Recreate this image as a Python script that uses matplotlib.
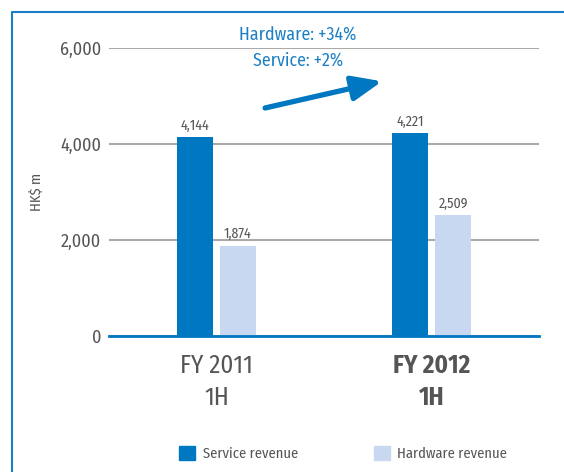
import matplotlib
matplotlib.use("Agg")
import matplotlib.pyplot as plt
from matplotlib.lines import Line2D

# dados
periods = ["FY 2011\n1H", "FY 2012\n1H"]
service = [4144, 4221]
hardware = [1874, 2509]
series_names = ["Service revenue", "Hardware revenue"]
yticks = [0, 2000, 4000, 6000]
note_lines = ["Hardware: +34%", "Service: +2%"]

plt.rcParams["font.family"] = ["Fira Sans Condensed", "DejaVu Sans"]

dark_blue = "#0077c1"
light_blue = "#c8d8f0"
text_blue = "#1a7fc4"
grey = "#555555"

fig = plt.figure(figsize=(5.64, 4.72), dpi=100)
ax = fig.add_axes([109 / 564, 136.3 / 472, 430 / 564, 288 / 472])

x = list(range(len(periods)))
w = 0.163
off = 0.1
b1 = ax.bar([i - off for i in x], service, width=w, color=dark_blue, zorder=3)
b2 = ax.bar([i + off for i in x], hardware, width=w, color=light_blue, zorder=3)

# rótulos de valor
for bars in (b1, b2):
    for r in bars:
        h = r.get_height()
        ax.text(r.get_x() + r.get_width() / 2, h + 90, f"{h:,.0f}",
                ha="center", va="bottom", fontsize=10, color=grey)

ax.set_xlim(-0.5, 1.5)
ax.set_ylim(0, 6000)
ax.set_yticks(yticks)
ax.set_yticklabels([f"{v:,}" for v in yticks], fontsize=13, color=grey)
ax.yaxis.grid(True, color="#aaaaaa", linewidth=1.5, zorder=0)
ax.tick_params(axis="y", length=0, pad=5.5)
ax.set_ylabel("HK$ m", fontsize=10.5, color=grey, labelpad=12)

ax.set_xticks(x)
ax.set_xticklabels(periods, fontsize=18, color=grey, linespacing=1.35)
ax.get_xticklabels()[1].set_fontweight("bold")
ax.tick_params(axis="x", length=0, pad=13)

for s in ["top", "right", "left"]:
    ax.spines[s].set_visible(False)
ax.spines["bottom"].set_color(dark_blue)
ax.spines["bottom"].set_linewidth(2)
ax.spines["bottom"].set_zorder(4)

# nota e seta
ax.text(0.379, 6244, note_lines[0], ha="center", va="center",
        fontsize=12.8, color=text_blue, clip_on=False)
ax.text(0.379, 5723, note_lines[1], ha="center", va="center",
        fontsize=12.8, color=text_blue, clip_on=False)
ax.annotate("", xy=(0.77, 5300), xytext=(0.226, 4744),
            arrowprops=dict(arrowstyle="-|>,head_length=1.8,head_width=0.75",
                            color=dark_blue, lw=3.8, shrinkA=0, shrinkB=0))

# legenda
handles = [plt.Rectangle((0, 0), 1, 1, color=dark_blue),
           plt.Rectangle((0, 0), 1, 1, color=light_blue)]
fig.legend(handles, series_names, loc="center", bbox_to_anchor=(343 / 564, 1 - 453 / 472),
           ncol=2, frameon=False, fontsize=10.5, handlelength=1.1, handleheight=1.1,
           columnspacing=5.2, handletextpad=0.5, labelcolor=grey)

# moldura azul
fig.add_artist(Line2D([12 / 564, 12 / 564, 1.02], [-0.02, 1 - 12 / 472, 1 - 12 / 472],
                      color=text_blue, linewidth=1.5))

plt.savefig("out.png", dpi=100)
